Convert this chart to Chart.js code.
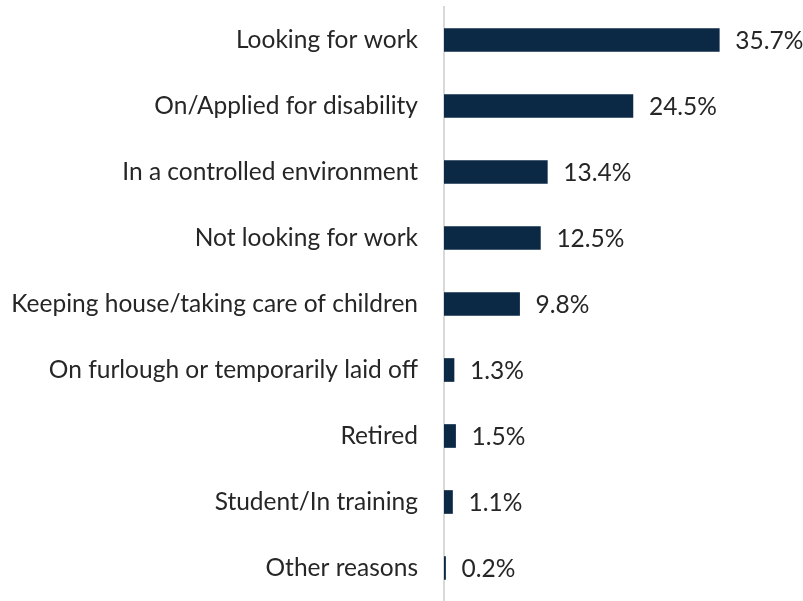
<!DOCTYPE html>
<html>
<head>
<meta charset="utf-8">
<script src="https://cdn.jsdelivr.net/npm/chart.js@4"></script>
<style>
  html, body { margin: 0; padding: 0; background: #ffffff; }
  #wrap { width: 803px; height: 601px; }
</style>
</head>
<body>
<div id="wrap"><canvas id="chartRazones"></canvas></div>
<script>
const categorias = [
    "Looking for work",
    "On/Applied for disability",
    "In a controlled environment",
    "Not looking for work",
    "Keeping house/taking care of children",
    "On furlough or temporarily laid off",
    "Retired",
    "Student/In training",
    "Other reasons"
];
const porcentajes = [35.7, 24.5, 13.4, 12.5, 9.8, 1.3, 1.5, 1.1, 0.2];

const colorBarra = "#0b2844";
const colorTexto = "#262626";
const fuente = "Lato, 'Open Sans', sans-serif";
const tamFuente = 24.5;

// etiquetas de valor a la derecha de cada barra
const etiquetasValor = {
    id: "etiquetasValor",
    afterDatasetsDraw(chart) {
        const ctx = chart.ctx;
        const meta = chart.getDatasetMeta(0);
        ctx.save();
        ctx.font = tamFuente + "px " + fuente;
        ctx.fillStyle = colorTexto;
        ctx.textAlign = "left";
        ctx.textBaseline = "middle";
        meta.data.forEach((barra, i) => {
            ctx.fillText(porcentajes[i].toFixed(1) + "%", barra.x + 16, barra.y + 1);
        });
        ctx.restore();
    }
};

new Chart(document.getElementById("chartRazones"), {
    type: "bar",
    data: {
        labels: categorias,
        datasets: [{
            data: porcentajes,
            backgroundColor: colorBarra,
            barThickness: 23
        }]
    },
    options: {
        indexAxis: "y",
        responsive: true,
        maintainAspectRatio: false,
        animation: false,
        layout: { padding: { top: 7, right: 12, bottom: 0, left: 0 } },
        plugins: {
            legend: { display: false },
            tooltip: { enabled: false }
        },
        scales: {
            x: {
                display: false,
                min: 0,
                max: 45
            },
            y: {
                afterFit(scale) {
                    scale.width = 444;
                    // sin margen extra arriba/abajo por las etiquetas
                    scale.paddingTop = 0;
                    scale.paddingBottom = 0;
                },
                grid: { display: false, drawTicks: false },
                border: { display: true, color: "#d9d9d9", width: 2 },
                ticks: {
                    padding: 26,
                    color: colorTexto,
                    font: { family: fuente, size: tamFuente }
                }
            }
        }
    },
    plugins: [etiquetasValor]
});
</script>
</body>
</html>
